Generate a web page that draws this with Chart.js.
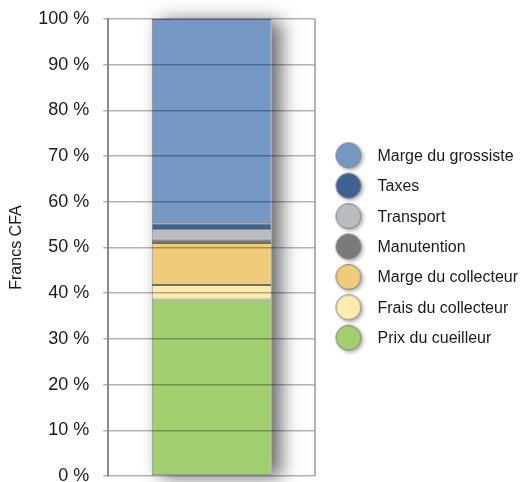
<!DOCTYPE html>
<html>
<head>
<meta charset="utf-8">
<script src="https://cdn.jsdelivr.net/npm/chart.js@4/dist/chart.umd.min.js"></script>
<style>
  html, body { margin: 0; padding: 0; background: #fff; }
  #wrap { width: 531px; height: 482px; }
</style>
</head>
<body>
<div id="wrap"><canvas id="chart" width="531" height="482"></canvas></div>
<script>
// données (en %)
const categories = [''];
const seriesNames = ['Prix du cueilleur', 'Frais du collecteur', 'Marge du collecteur', 'Manutention', 'Transport', 'Taxes', 'Marge du grossiste'];
const seriesValues = [38.6, 3.2, 9.2, 0.7, 2.0, 1.6, 44.7];
const yTicks = [0, 10, 20, 30, 40, 50, 60, 70, 80, 90, 100];

const colors = ['#a1cf6f', '#fdebb0', '#f0cb7a', '#7a7a7a', '#b9bcc0', '#3f6190', '#7597c4'];
const FONT = '"Liberation Sans", Arial, sans-serif';

// petits ronds de la légende
function circleImage(color) {
    const c = document.createElement('canvas');
    c.width = 34; c.height = 34;
    const g = c.getContext('2d');
    g.shadowColor = 'rgba(0,0,0,0.35)';
    g.shadowBlur = 4;
    g.shadowOffsetX = 2;
    g.shadowOffsetY = 2;
    g.beginPath();
    g.arc(16, 16, 12.5, 0, Math.PI * 2);
    g.fillStyle = color;
    g.fill();
    g.shadowColor = 'transparent';
    g.lineWidth = 1;
    g.strokeStyle = '#7d7d7d';
    g.stroke();
    return c;
}
const legendImages = colors.map(circleImage);

// ombre portée derrière la barre + bord droit du cadre
const barShadow = {
    id: 'barShadow',
    beforeDatasetsDraw(chart) {
        const metas = chart.getSortedVisibleDatasetMetas();
        if (!metas.length) return;
        const first = metas[0].data[0];
        const last = metas[metas.length - 1].data[0];
        const left = first.x - first.width / 2;
        const top = last.y;
        const bottom = first.base;
        const ctx = chart.ctx;
        ctx.save();
        ctx.shadowColor = 'rgba(0,0,0,0.6)';
        ctx.shadowBlur = 18;
        ctx.shadowOffsetX = 9;
        ctx.shadowOffsetY = 2;
        ctx.fillStyle = '#fff';
        ctx.fillRect(left, top, first.width, bottom - top);
        ctx.restore();
    },
    afterDraw(chart) {
        const a = chart.chartArea;
        const ctx = chart.ctx;
        ctx.save();
        ctx.strokeStyle = '#9a9a9a';
        ctx.lineWidth = 1.5;
        ctx.beginPath();
        ctx.moveTo(a.right, a.top);
        ctx.lineTo(a.right, a.bottom);
        ctx.stroke();
        ctx.restore();
    }
};

const datasets = seriesNames.map((name, i) => ({
    label: name,
    data: [seriesValues[i]],
    backgroundColor: colors[i],
    borderColor: '#6e6e6e',
    borderWidth: 1,
    borderSkipped: false,
    barPercentage: 0.58,
    categoryPercentage: 1
}));

new Chart(document.getElementById('chart'), {
    type: 'bar',
    data: { labels: categories, datasets: datasets },
    plugins: [barShadow],
    options: {
        responsive: false,
        animation: false,
        devicePixelRatio: 1,
        layout: { padding: { top: 19, bottom: 6, right: 3, left: 7 } },
        scales: {
            x: {
                stacked: true,
                display: false
            },
            y: {
                stacked: true,
                min: 0,
                max: 100,
                afterBuildTicks(axis) {
                    axis.ticks = yTicks.map(v => ({ value: v }));
                },
                afterFit(axis) {
                    // les étiquettes du haut et du bas peuvent déborder
                    axis.paddingTop = 0;
                    axis.paddingBottom = 0;
                },
                ticks: {
                    padding: 14,
                    color: '#1a1a1a',
                    font: { family: FONT, size: 18 },
                    callback: v => v + ' %'
                },
                grid: {
                    color: 'rgba(0,0,0,0.3)',
                    lineWidth: 1.5,
                    tickLength: 5,
                    z: 1
                },
                border: { color: '#8a8a8a', width: 2, z: 1 },
                title: {
                    display: true,
                    text: 'Francs CFA',
                    color: '#1a1a1a',
                    font: { family: FONT, size: 16 },
                    padding: { top: 0, bottom: -2 }
                }
            }
        },
        plugins: {
            tooltip: { enabled: false },
            legend: {
                position: 'right',
                reverse: true,
                maxWidth: 217,
                labels: {
                    usePointStyle: true,
                    pointStyleWidth: 40,
                    padding: 14.4,
                    color: '#1a1a1a',
                    font: { family: FONT, size: 16 },
                    generateLabels(chart) {
                        const items = Chart.defaults.plugins.legend.labels.generateLabels(chart);
                        items.forEach(it => { it.pointStyle = legendImages[it.datasetIndex]; });
                        return items;
                    }
                }
            }
        }
    }
});
</script>
</body>
</html>
